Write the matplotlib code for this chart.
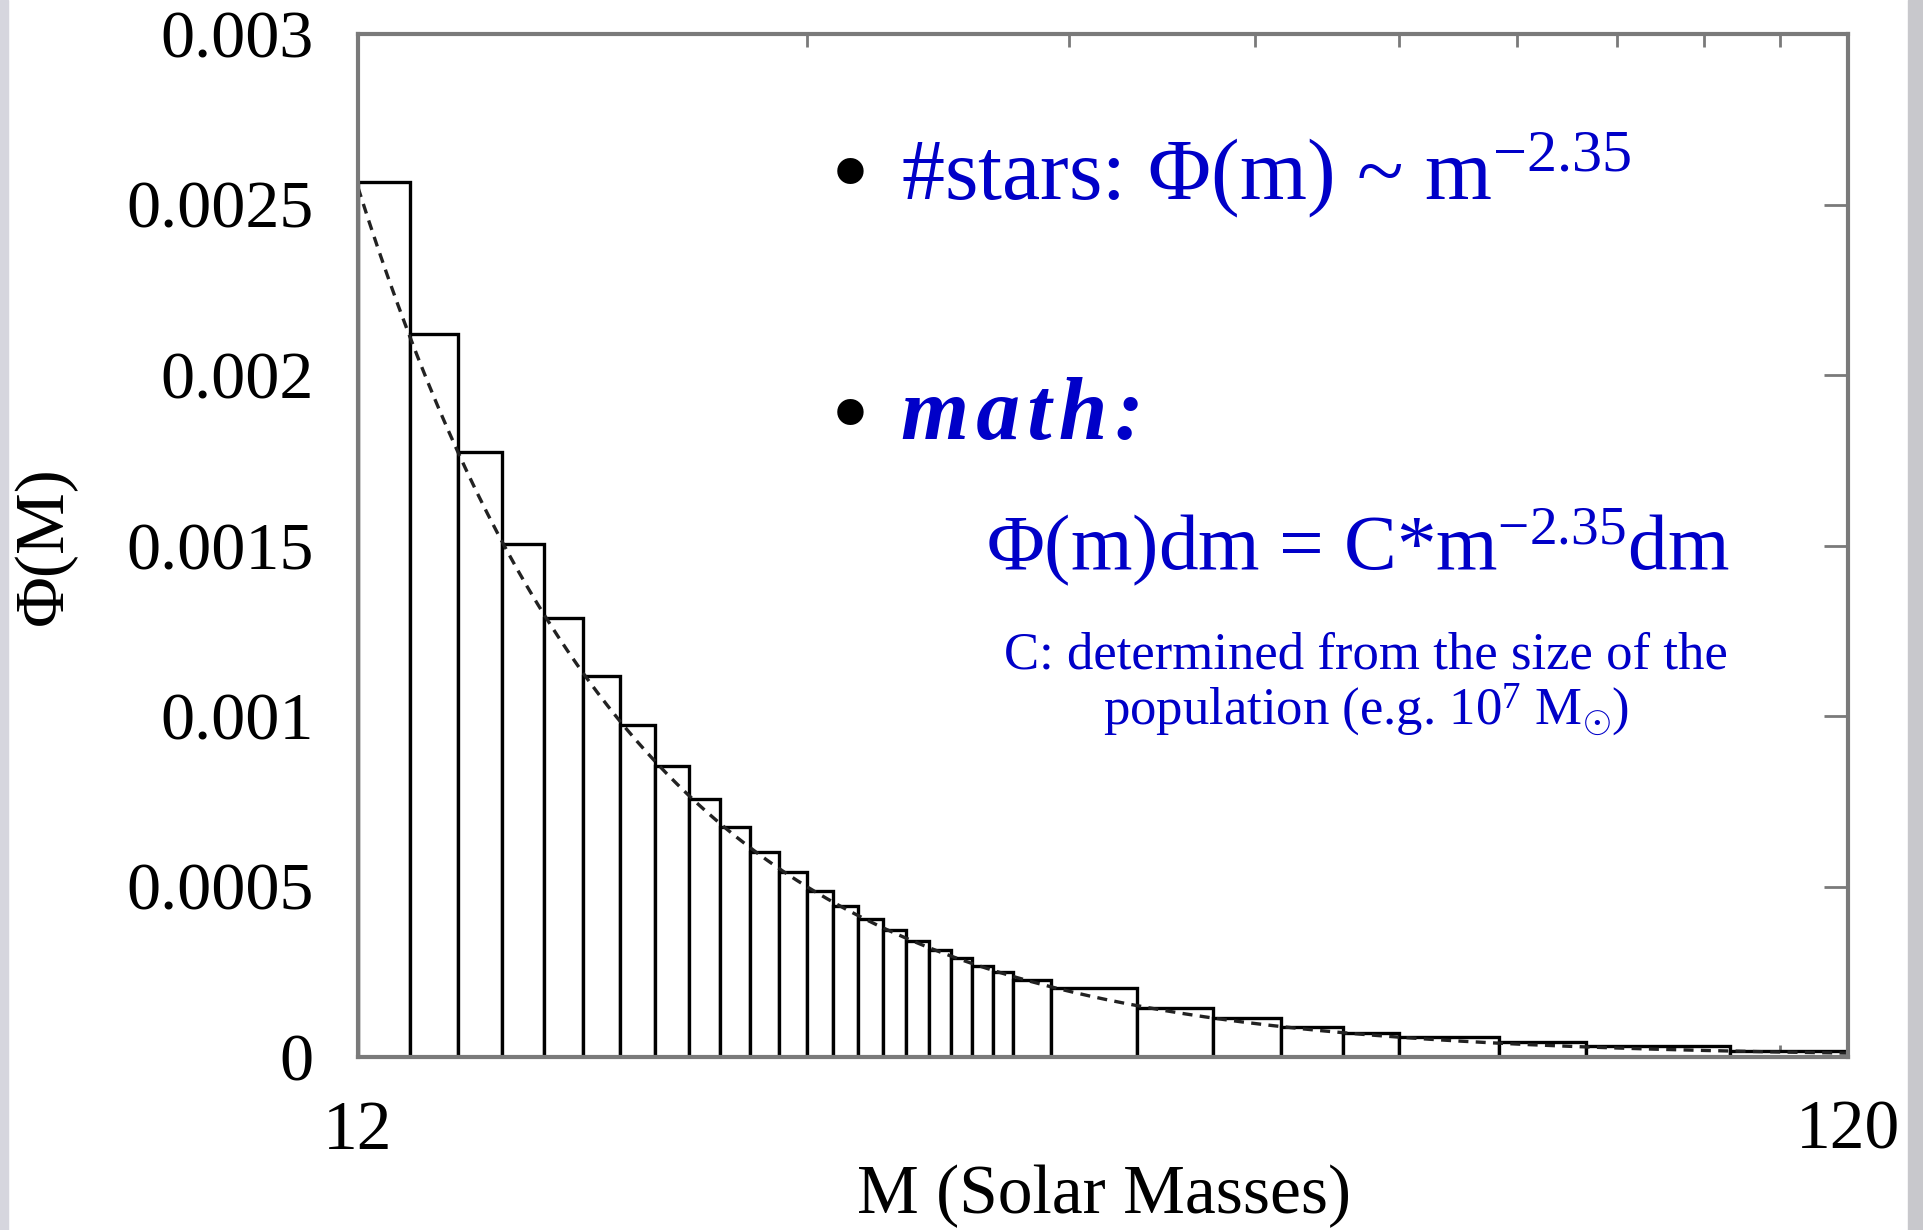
import numpy as np
import matplotlib
matplotlib.use("Agg")
import matplotlib.pyplot as plt
from matplotlib.patches import Rectangle
from matplotlib.ticker import NullFormatter

plt.rcParams['font.family'] = ['Liberation Serif', 'DejaVu Serif']
plt.rcParams['mathtext.fontset'] = 'custom'
plt.rcParams['mathtext.rm'] = 'Liberation Serif'
plt.rcParams['mathtext.it'] = 'Liberation Serif:italic'
plt.rcParams['mathtext.bf'] = 'Liberation Serif:bold'

# Salpeter-like histogram: bin edges in solar masses and bin heights
bin_edges = [12, 13, 14, 15, 16, 17, 18, 19, 20, 21, 22, 23, 24, 25, 26, 27,
             28, 29, 30, 31, 32, 33, 35, 40, 45, 50, 55, 60, 70, 80, 100, 120]
phi_hist = [2.565e-3, 2.120e-3, 1.775e-3, 1.505e-3, 1.287e-3, 1.116e-3,
            0.974e-3, 0.854e-3, 0.757e-3, 0.675e-3, 0.601e-3, 0.543e-3,
            0.488e-3, 0.444e-3, 0.406e-3, 0.372e-3, 0.339e-3, 0.314e-3,
            0.289e-3, 0.267e-3, 0.248e-3, 0.227e-3, 0.201e-3, 0.145e-3,
            0.114e-3, 0.089e-3, 0.070e-3, 0.058e-3, 0.045e-3, 0.031e-3,
            0.019e-3]

# power law model Phi(m) ~ m^-2.35, pinned at the low-mass end
IMF_SLOPE = -2.35
M_LOW, M_HIGH = 12, 120
PHI_AT_LOW = 0.00255

y_ticks = [0, 0.0005, 0.001, 0.0015, 0.002, 0.0025, 0.003]
y_tick_labels = ["0", "0.0005", "0.001", "0.0015", "0.002", "0.0025", "0.003"]
x_ticks = [12, 120]
x_tick_labels = ["12", "120"]
x_minor = [24, 36, 48, 60, 72, 84, 96, 108]

BLUE = '#0000C8'
FRAME = '#7A7A7A'

fig = plt.figure(figsize=(19.23, 12.30), dpi=100)
ax = fig.add_axes([358 / 1923, 1 - 1057 / 1230, 1490 / 1923, 1023 / 1230])

edges = np.array(bin_edges, dtype=float)
ax.bar(edges[:-1], phi_hist, width=np.diff(edges), align='edge',
       facecolor='white', edgecolor='black', linewidth=2.4, zorder=2)

m = np.geomspace(M_LOW, M_HIGH, 300)
ax.plot(m, PHI_AT_LOW * (m / M_LOW) ** IMF_SLOPE, color='#222222',
        linewidth=2.4, dashes=(3.0, 2.2), zorder=3)

ax.set_xscale('log')
ax.set_xlim(M_LOW, M_HIGH)
ax.set_ylim(0, 0.003)
ax.set_xticks(x_ticks, x_tick_labels)
ax.set_xticks(x_minor, minor=True)
ax.xaxis.set_minor_formatter(NullFormatter())
ax.set_yticks(y_ticks, y_tick_labels)

ax.tick_params(axis='x', which='major', direction='in', length=0,
               labelsize=50, pad=31)
ax.tick_params(axis='x', which='minor', direction='in', length=9, width=2,
               color=FRAME, top=True, bottom=True)
ax.tick_params(axis='y', which='major', direction='in', length=17, width=2,
               color=FRAME, left=True, right=True, labelsize=49, pad=32)
for s in ax.spines.values():
    s.set_color(FRAME)
    s.set_linewidth(3)
    s.set_zorder(4)

ax.set_xlabel("M (Solar Masses)", fontsize=50)
ax.xaxis.set_label_coords(0.5007, -0.136)
ax.xaxis.label.set_va('center')
ax.set_ylabel("Φ(M)", fontsize=50)
ax.yaxis.set_label_coords(-0.210, 0.4995)
ax.yaxis.label.set_va('center')
ax.yaxis.label.set_ha('center')

# annotation bullets
ax.text(0.330, 0.857, "•", transform=ax.transAxes, ha='center', va='center',
        fontsize=80, color='black')
ax.text(0.3644, 0.8387, r"#stars: Φ(m) ~ m$^{\mathrm{-2.35}}$",
        transform=ax.transAxes, ha='left', va='baseline', fontsize=62,
        color=BLUE)
ax.text(0.330, 0.621, "•", transform=ax.transAxes, ha='center', va='center',
        fontsize=80, color='black')
ax.text(0.3644, 0.604, "m a t h :".replace(" ", "\u200a"),
        transform=ax.transAxes, ha='left', va='baseline', fontsize=63,
        color=BLUE, fontweight='bold', fontstyle='italic')
ax.text(0.671, 0.476, r"Φ(m)dm = C*m$^{\mathrm{-2.35}}$dm",
        transform=ax.transAxes, ha='center', va='baseline', fontsize=57,
        color=BLUE)
ax.text(0.6765, 0.380, "C: determined from the size of the",
        transform=ax.transAxes, ha='center', va='baseline', fontsize=38,
        color=BLUE)
ax.text(0.6765, 0.3255, r"population (e.g. 10$^{\mathrm{7}}$ M$_{\odot}$)",
        transform=ax.transAxes, ha='center', va='baseline', fontsize=38,
        color=BLUE)

# slide edges
fig.add_artist(Rectangle((0, 0), 8 / 1923, 1, transform=fig.transFigure,
                         color='#D6D6DE', zorder=0))
fig.add_artist(Rectangle((1908 / 1923, 0), 15 / 1923, 1,
                         transform=fig.transFigure, color='#C8C8CC', zorder=0))

fig.savefig("out.png", dpi=100)
